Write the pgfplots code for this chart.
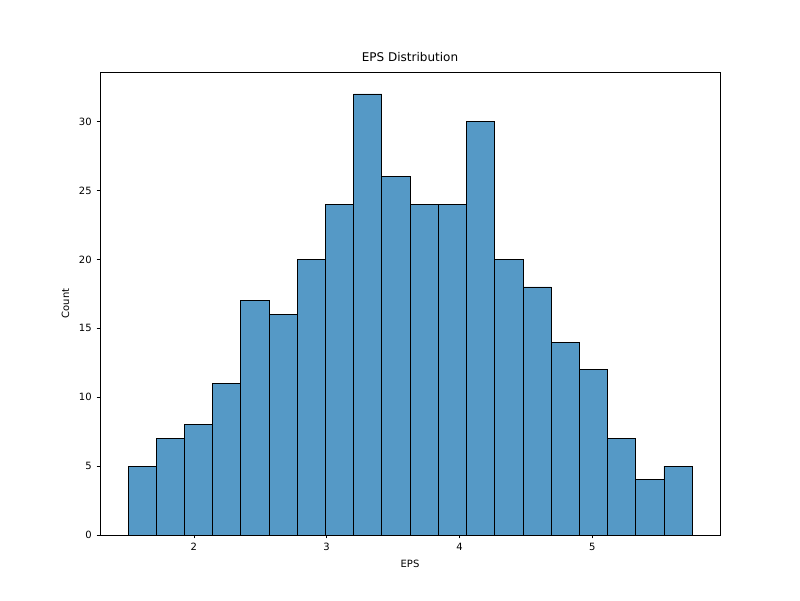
\documentclass[border=0pt]{standalone}
\usepackage{pgfplots}
\pgfplotsset{compat=1.18}
\usepackage{fontspec}
\setmainfont{DejaVu Sans}
\definecolor{barc}{RGB}{85,153,198}
\begin{document}
\begin{tikzpicture}
\path[use as bounding box] (-72pt,-46.8pt) rectangle (504pt,385.2pt);
\begin{axis}[
  at={(0,0)}, anchor=south west,
  scale only axis, width=446.4pt, height=333.4pt,
  xmin=1.293, xmax=5.962, ymin=0, ymax=33.6,
  xtick={2,3,4,5}, ytick={0,5,10,15,20,25,30},
  tick align=outside, tick style={black, thin}, major tick length=2.5pt,
  xtick pos=bottom, ytick pos=left,
  ticklabel style={font=\fontsize{7.2}{8}\selectfont},
  /pgf/number format/assume math mode=true,
  xlabel={EPS}, ylabel={Count},
  label style={font=\fontsize{7.2}{8}\selectfont},
  title={EPS Distribution},
  title style={font=\fontsize{8.64}{10}\selectfont, yshift=-2pt},
  axis line style={black, thin},
]
\addplot[ybar interval, fill=barc, draw=black, line width=0.6pt] coordinates {
(1.504,5)(1.716,7)(1.929,8)(2.141,11)(2.354,17)(2.566,16)(2.778,20)(2.991,24)
(3.203,32)(3.416,26)(3.628,24)(3.840,24)(4.053,30)(4.265,20)(4.478,18)(4.690,14)
(4.902,12)(5.115,7)(5.327,4)(5.540,5)(5.752,5)};
\end{axis}
\end{tikzpicture}
\end{document}
